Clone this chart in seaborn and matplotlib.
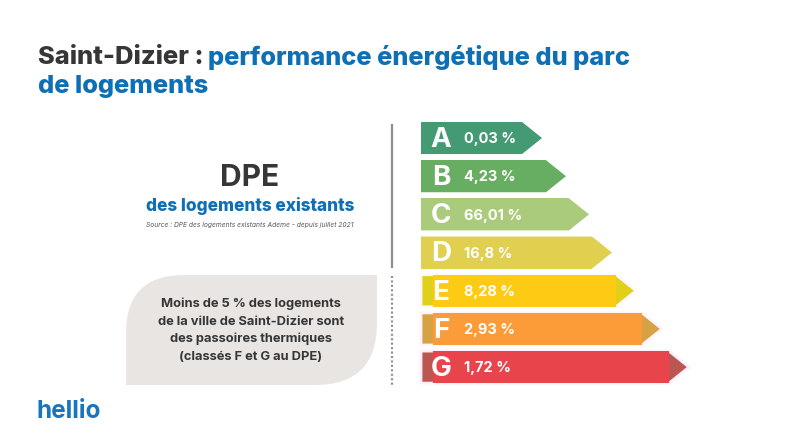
import matplotlib
matplotlib.use('Agg')
import matplotlib.pyplot as plt
import pandas as pd
import seaborn as sns
from matplotlib.patches import PathPatch, Polygon
from matplotlib.path import Path

grades = ['A', 'B', 'C', 'D', 'E', 'F', 'G']
shares = ['0,03 %', '4,23 %', '66,01 %', '16,8 %', '8,28 %', '2,93 %', '1,72 %']
# length of the arrow body
body_len = [101, 125, 148, 171, 195, 221, 248]
colors = ['#439A73', '#68AE62', '#ABCB7C', '#E1D050', '#FDCB14', '#FB9C38', '#E8444B']
under_colors = ['#439A73', '#68AE62', '#ABCB7C', '#E1D050', '#E0D01A', '#D6A244', '#BC5650']
halo_colors = ['none', 'none', 'none', 'none', '#FEF8FD', '#FDF4FD', '#FDEFFC']

DARK = '#363636'
BLUE = '#0F6FB4'
FONT = 'Inter'

sns.set_theme(style='white')
plt.rcParams['font.family'] = [FONT, 'DejaVu Sans']

df = pd.DataFrame({'grade': grades, 'body': body_len})

fig = plt.figure(figsize=(7.92, 4.45), dpi=100, facecolor='white')
bg = fig.add_axes([0, 0, 1, 1])
bg.set_xlim(0, 792)
bg.set_ylim(445, 0)
bg.axis('off')

# arrows
ax = fig.add_axes([0, 0, 1, 1])
ax.patch.set_alpha(0)
sns.barplot(data=df, y='grade', x='body', hue='grade', palette=colors, legend=False,
            width=0.84, saturation=1, linewidth=0, ax=ax)
ax.set_xlim(-421, 371)
ax.set_ylim(8.04, -3.615)
ax.axis('off')

for bar, letter, share, c, uc, hc in zip(ax.patches, grades, shares, colors, under_colors, halo_colors):
    x1 = bar.get_width()
    y0 = bar.get_y()
    h = bar.get_height()
    ym = y0 + h / 2
    tip = 20
    bar.set_zorder(3)
    bar.set_linewidth(0)
    outline = [(0, y0), (x1, y0), (x1 + tip, ym), (x1, y0 + h), (0, y0 + h)]
    ax.add_patch(Polygon(outline, closed=True, fc=uc, ec=hc, lw=2, zorder=2))
    if uc != c:
        bar.set_x(12)
        bar.set_width(x1 - 12)
    ax.text(20, ym + 0.05, letter, color='white', fontsize=20, fontweight='bold', ha='center', va='center', zorder=4)
    ax.text(43, ym + 0.03, share, color='white', fontsize=10.5, fontweight='bold', ha='left', va='center', zorder=4)

# separator
bg.plot([391.5, 391.5], [124, 268], color='#8E8E8E', lw=1.6, solid_capstyle='butt')
bg.plot([391.5, 391.5], [276, 385], color='#8E8E8E', lw=1.6, linestyle=(0, (0.9, 1.1)))

# rounded panel
x0, x1, y0, y1 = 126, 377, 275, 385
r1, r2 = 58, 62
verts = [(x0 + r1, y0), (x1, y0), (x1, y1 - r2), (x1, y1), (x1 - r2, y1), (x0, y1), (x0, y0 + r1),
         (x0, y0), (x0 + r1, y0)]
codes = [Path.MOVETO, Path.LINETO, Path.LINETO, Path.CURVE3, Path.CURVE3, Path.LINETO, Path.LINETO,
         Path.CURVE3, Path.CURVE3]
bg.add_patch(PathPatch(Path(verts, codes), fc='#E9E5E3', ec='none'))

# titles
bg.text(38, 57, 'Saint-Dizier : ', color=DARK, fontsize=18.4, fontweight='heavy', ha='left', va='center')
bg.text(208, 57, 'performance énergétique du parc', color=BLUE, fontsize=18.3, fontweight='heavy', ha='left', va='center')
bg.text(38, 87, 'de logements', color=BLUE, fontsize=18.3, fontweight='heavy', ha='left', va='center')

bg.text(250, 178, 'DPE', color=DARK, fontsize=21.5, fontweight='bold', ha='center', va='center')
bg.text(250, 206, 'des logements existants', color=BLUE, fontsize=12.4, fontweight='heavy', ha='center', va='center')
bg.text(250, 225, 'Source : DPE des logements existants Ademe - depuis juillet 2021', color='#555555',
        fontsize=4.8, style='italic', ha='center', va='center')

note = ['Moins de 5 % des logements', 'de la ville de Saint-Dizier sont',
        'des passoires thermiques', '(classés F et G au DPE)']
for i, line in enumerate(note):
    bg.text(251, 304 + i * 17.6, line, color=DARK, fontsize=9.3, fontweight='bold', ha='center', va='center')

bg.text(37, 412, 'hellio', color='#1B75BC', fontsize=17.5, fontweight='bold', ha='left', va='center')

fig.savefig('out.png', dpi=100, facecolor='white')
